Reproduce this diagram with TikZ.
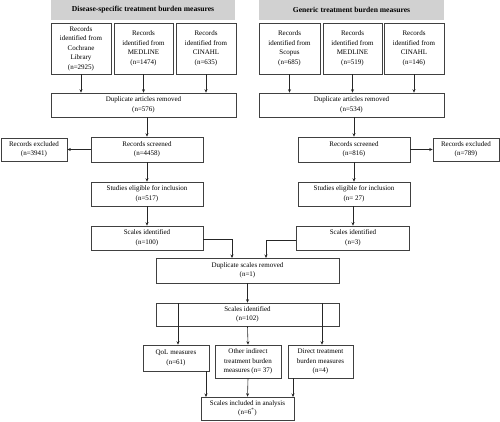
\documentclass[tikz,border=0pt]{standalone}
\usepackage{fontspec}
\setmainfont{Liberation Serif}
\usetikzlibrary{arrows.meta}
\begin{document}
\begin{tikzpicture}[x=1pt,y=-1pt,
  box/.style={draw=black!75, line width=0.6pt, rectangle, align=center, inner sep=1pt,
    font=\fontsize{7}{9.5}\selectfont},
  hdr/.style={fill=black!18, draw=none, rectangle, align=center,
    font=\fontsize{7.6}{9}\selectfont\bfseries},
  arr/.style={line width=0.6pt, draw=black!85, -{Stealth[length=3.5pt,width=3pt]}},
  ln/.style={line width=0.6pt, draw=black!85}]
\useasboundingbox (0,0) rectangle (500,421);
% headers
\node[hdr, minimum width=184pt, minimum height=20pt] (hL) at (143,10) {Disease-specific treatment burden measures};
\node[hdr, minimum width=185pt, minimum height=20pt] (hR) at (351.5,10) {Generic treatment burden measures};
% left sources
\node[box, minimum width=60pt, minimum height=51pt] (L1) at (81,48.5) {Records\\identified from\\Cochrane\\Library\\(n=2925)};
\node[box, minimum width=59pt, minimum height=51pt] (L2) at (143.5,48.5) {Records\\identified from\\MEDLINE\\(n=1474)};
\node[box, minimum width=60pt, minimum height=51pt] (L3) at (206,48.5) {Records\\identified from\\CINAHL\\(n=635)};
% right sources
\node[box, minimum width=61pt, minimum height=51pt] (R1) at (289.5,48.5) {Records\\identified from\\Scopus\\(n=685)};
\node[box, minimum width=59pt, minimum height=51pt] (R2) at (352.5,48.5) {Records\\identified from\\MEDLINE\\(n=519)};
\node[box, minimum width=60pt, minimum height=51pt] (R3) at (414,48.5) {Records\\identified from\\CINAHL\\(n=146)};
% duplicates
\node[box, minimum width=185pt, minimum height=24pt] (dL) at (143.5,105) {Duplicate articles removed\\(n=576)};
\node[box, minimum width=185pt, minimum height=24pt] (dR) at (351.5,105) {Duplicate articles removed\\(n=534)};
% screened
\node[box, minimum width=112pt, minimum height=25pt] (sL) at (147,149.5) {Records screened\\(n=4458)};
\node[box, minimum width=66pt, minimum height=23pt] (xL) at (34,149.5) {Records excluded\\(n=3941)};
\node[box, minimum width=112pt, minimum height=25pt] (sR) at (354,149.5) {Records screened\\(n=816)};
\node[box, minimum width=66pt, minimum height=23pt] (xR) at (466,149.5) {Records excluded\\(n=789)};
% eligible
\node[box, minimum width=112pt, minimum height=24pt] (eL) at (147,194) {Studies eligible for inclusion\\(n=517)};
\node[box, minimum width=112pt, minimum height=24pt] (eR) at (354,194) {Studies eligible for inclusion\\(n= 27)};
% scales
\node[box, minimum width=112pt, minimum height=24pt] (cL) at (147,238) {Scales identified\\(n=100)};
\node[box, minimum width=113pt, minimum height=24pt] (cR) at (353,238) {Scales identified\\(n=3)};
% merged
\node[box, minimum width=183pt, minimum height=25pt] (dS) at (247.5,270.5) {Duplicate scales removed\\(n=1)};
\node[box, minimum width=183pt, minimum height=23pt] (c102) at (247.5,314.5) {Scales identified\\(n=102)};
\node[box, minimum width=66pt, minimum height=26pt] (q) at (176,358) {QoL measures\\(n=61)};
\node[box, minimum width=66pt, minimum height=33pt] (o) at (248,361.5) {Other indirect\\treatment burden\\measures (n= 37)};
\node[box, minimum width=65pt, minimum height=33pt] (dr) at (320.5,361.5) {Direct treatment\\burden measures\\(n=4)};
\node[box, minimum width=93pt, minimum height=23pt] (inc) at (247.5,408.5) {Scales included in analysis\\(n=6\textsuperscript{*})};
% coordinates
\coordinate (jL) at (232,258);
\coordinate (jR) at (266,258);
\coordinate (i1) at (206,397);
\coordinate (i3) at (293,397);
\coordinate (a1) at (178,303);
\coordinate (a3) at (322,303);
% arrows top
\foreach \n in {L1,L2,L3} \draw[arr] (\n.south) -- (\n.south |- dL.north);
\foreach \n in {R1,R2,R3} \draw[arr] (\n.south) -- (\n.south |- dR.north);
\draw[arr] (sL.north |- dL.south) -- (sL.north);
\draw[arr] (sR.north |- dR.south) -- (sR.north);
\draw[arr] (sL.west) -- (xL.east);
\draw[arr] (sR.east) -- (xR.west);
\draw[arr] (sL.south) -- (eL.north);
\draw[arr] (sR.south) -- (eR.north);
\draw[arr] (eL.south) -- (cL.north);
\draw[arr] (cR.north |- eR.south) -- (cR.north);
\draw[arr] ([yshift=-1pt]cL.east) -| (jL);
\draw[arr] ([yshift=-2pt]cR.west) -| (jR);
\draw[arr] (dS.south) -- (c102.north);
\draw[arr] (a1) -- (a1 |- q.north);
\draw[arr] (c102.south) -- (o.north);
\draw[arr] (a3) -- (a3 |- dr.north);
\draw[arr] (i1 |- q.south) -- (i1);
\draw[arr] (o.south) -- (inc.north);
\draw[arr] (i3 |- dr.south) -- (i3);
\end{tikzpicture}
\end{document}
